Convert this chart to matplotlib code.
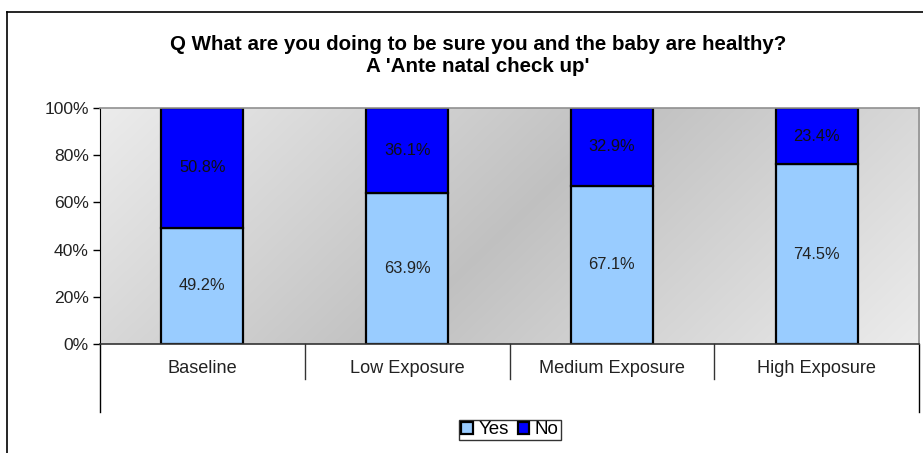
import numpy as np
import matplotlib
matplotlib.use("Agg")
import matplotlib.pyplot as plt
from matplotlib.lines import Line2D

# chart data
categories = ["Baseline", "Low Exposure", "Medium Exposure", "High Exposure"]
yes_vals = [49.2, 63.9, 67.1, 74.5]
no_vals = [50.8, 36.1, 32.9, 23.4]
yticks = [0, 20, 40, 60, 80, 100]

plt.rcParams['font.family'] = ['Liberation Sans', 'DejaVu Sans']

W, H = 923, 453
fig = plt.figure(figsize=(W / 100, H / 100), dpi=100)
ax = fig.add_axes([100 / W, (H - 344) / H, (919 - 100) / W, (344 - 108) / H])

x = np.arange(len(categories))
yes = np.array(yes_vals)
no = np.array(no_vals)
tot = yes + no
yes_h = yes / tot * 100   # 100% stacked
no_h = no / tot * 100

# gradient background (light -> dark -> light, diagonal)
gx, gy = np.meshgrid(np.linspace(0, 1, 400), np.linspace(1, 0, 200))
s = (gx + 0.3 * (1 - gy)) / 1.3
g = 1 - np.abs(2 * s - 1)
shade = 0.925 - 0.17 * g
bg = np.dstack([shade, shade, shade])
ax.imshow(bg, extent=(-0.5, 3.5, 0, 100), aspect='auto', zorder=0,
          interpolation='bilinear')

ax.bar(x, yes_h, width=0.4, color='#99CCFF', edgecolor='black', linewidth=1.6,
       label='Yes', zorder=2)
ax.bar(x, no_h, width=0.4, bottom=yes_h, color='#0000FF', edgecolor='black',
       linewidth=1.6, label='No', zorder=2)

for i in range(len(categories)):
    ax.text(x[i], yes_h[i] / 2, f"{yes_vals[i]:.1f}%", ha='center', va='center',
            fontsize=11.8, color='#222222', zorder=3)
    ax.text(x[i], yes_h[i] + no_h[i] / 2, f"{no_vals[i]:.1f}%", ha='center',
            va='center', fontsize=11.8, color='#111111', zorder=3)

ax.set_xlim(-0.5, 3.5)
ax.set_ylim(0, 100)
ax.set_yticks(yticks)
ax.set_yticklabels([f"{t}%" for t in yticks], fontsize=12.6, color='#222222')
ax.tick_params(axis='y', direction='out', length=5, width=1, pad=3)
ax.set_xticks([])

for sp in ['top', 'right']:
    ax.spines[sp].set_color('#909090')
    ax.spines[sp].set_linewidth(1.2)
ax.spines['left'].set_color('black')
ax.spines['bottom'].set_color('#333333')
ax.spines['bottom'].set_linewidth(1.2)

# category table lines and labels
tr = ax.get_xaxis_transform()
for b in [0.5, 1.5, 2.5]:
    ax.plot([b, b], [0, -0.15], color='#333333', lw=1, transform=tr, clip_on=False)
for b in [-0.5, 3.5]:
    ax.plot([b, b], [0, -0.29], color='black', lw=1, transform=tr, clip_on=False)
for i, c in enumerate(categories):
    ax.text(x[i], -0.105, c, ha='center', va='center', fontsize=13.1,
            color='#222222', transform=tr)

fig.text(478 / W, 1 - 44 / H, "Q What are you doing to be sure you and the baby are healthy?",
         ha='center', va='center', fontsize=14.8, fontweight='bold')
fig.text(478 / W, 1 - 66 / H, "A 'Ante natal check up'",
         ha='center', va='center', fontsize=14.8, fontweight='bold')

leg = fig.legend(loc='center', bbox_to_anchor=(510 / W, 1 - 430 / H), ncol=2,
                 fontsize=13.5, frameon=True, fancybox=False, edgecolor='black',
                 handlelength=0.6, handleheight=0.6, handletextpad=0.3,
                 columnspacing=0.5, borderpad=0.1, borderaxespad=0)
leg.get_frame().set_linewidth(1)

# outer chart frame
fig.add_artist(Line2D([7 / W, 7 / W], [0, 1 - 12 / H], color='black', lw=1.2,
                      transform=fig.transFigure))
fig.add_artist(Line2D([7 / W, 1], [1 - 12 / H, 1 - 12 / H], color='black', lw=1.2,
                      transform=fig.transFigure))

fig.savefig("out.png", dpi=100)
